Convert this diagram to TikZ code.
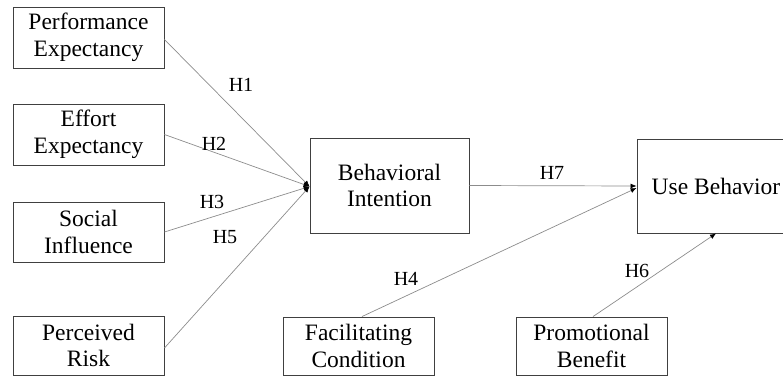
\documentclass[tikz,border=0pt]{standalone}
\usepackage{fontspec}
\setmainfont{Liberation Serif}
\usetikzlibrary{arrows.meta}
\begin{document}
\begin{tikzpicture}[x=1pt,y=-1pt,
  box/.style={draw=black!75, line width=0.9pt, minimum width=151pt, inner sep=0pt,
    align=center, font=\fontsize{23.5}{26.5}\selectfont},
  link/.style={draw=black!45, line width=0.7pt, -{Latex[length=6pt,width=5pt,color=black]}},
  hlab/.style={inner sep=0pt, font=\fontsize{20}{22}\selectfont}]
\useasboundingbox (0,0) rectangle (783,378);
\node[box, minimum height=61pt] (PE) at (88.5,37.5) {Performance\\Expectancy};
\node[box, minimum height=61pt] (EE) at (88.5,134.5) {Effort\\Expectancy};
\node[box, minimum height=60pt] (SI) at (88.5,232) {Social\\Influence};
\node[box, minimum height=59pt] (PR) at (88.5,345.5) {Perceived\\Risk};
\node[box, minimum width=159pt, minimum height=95pt] (BI) at (389.5,185.5) {Behavioral\\Intention};
\node[box, minimum width=158pt, minimum height=94pt] (UB) at (716,186) {Use Behavior};
\node[box, minimum height=58pt] (FC) at (358.5,346) {Facilitating\\Condition};
\node[box, minimum height=58pt] (PB) at (591.5,346) {Promotional\\Benefit};
\draw[link] ([yshift=-2pt]PE.east) -- ([yshift=-1pt]BI.west);
\draw[link] (EE.east) -- ([yshift=-1pt]BI.west);
\draw[link] (SI.east) -- ([yshift=-1pt]BI.west);
\draw[link] ([yshift=-2.5pt]PR.east) -- ([yshift=-1pt]BI.west);
\draw[link] (BI.east) -- (UB.west);
\draw[link] ([xshift=3.5pt]FC.north) -- ([yshift=-2pt]UB.west);
\draw[link] ([xshift=1.5pt]PB.north) -- (UB.south);
\node[hlab] (h1) at (241,85) {H1};
\node[hlab] (h2) at (214,144) {H2};
\node[hlab] (h3) at (212,202) {H3};
\node[hlab] (h5) at (225,237) {H5};
\node[hlab] (h7) at (552,173) {H7};
\node[hlab] (h4) at (406,279) {H4};
\node[hlab] (h6) at (637,271) {H6};
\end{tikzpicture}
\end{document}
